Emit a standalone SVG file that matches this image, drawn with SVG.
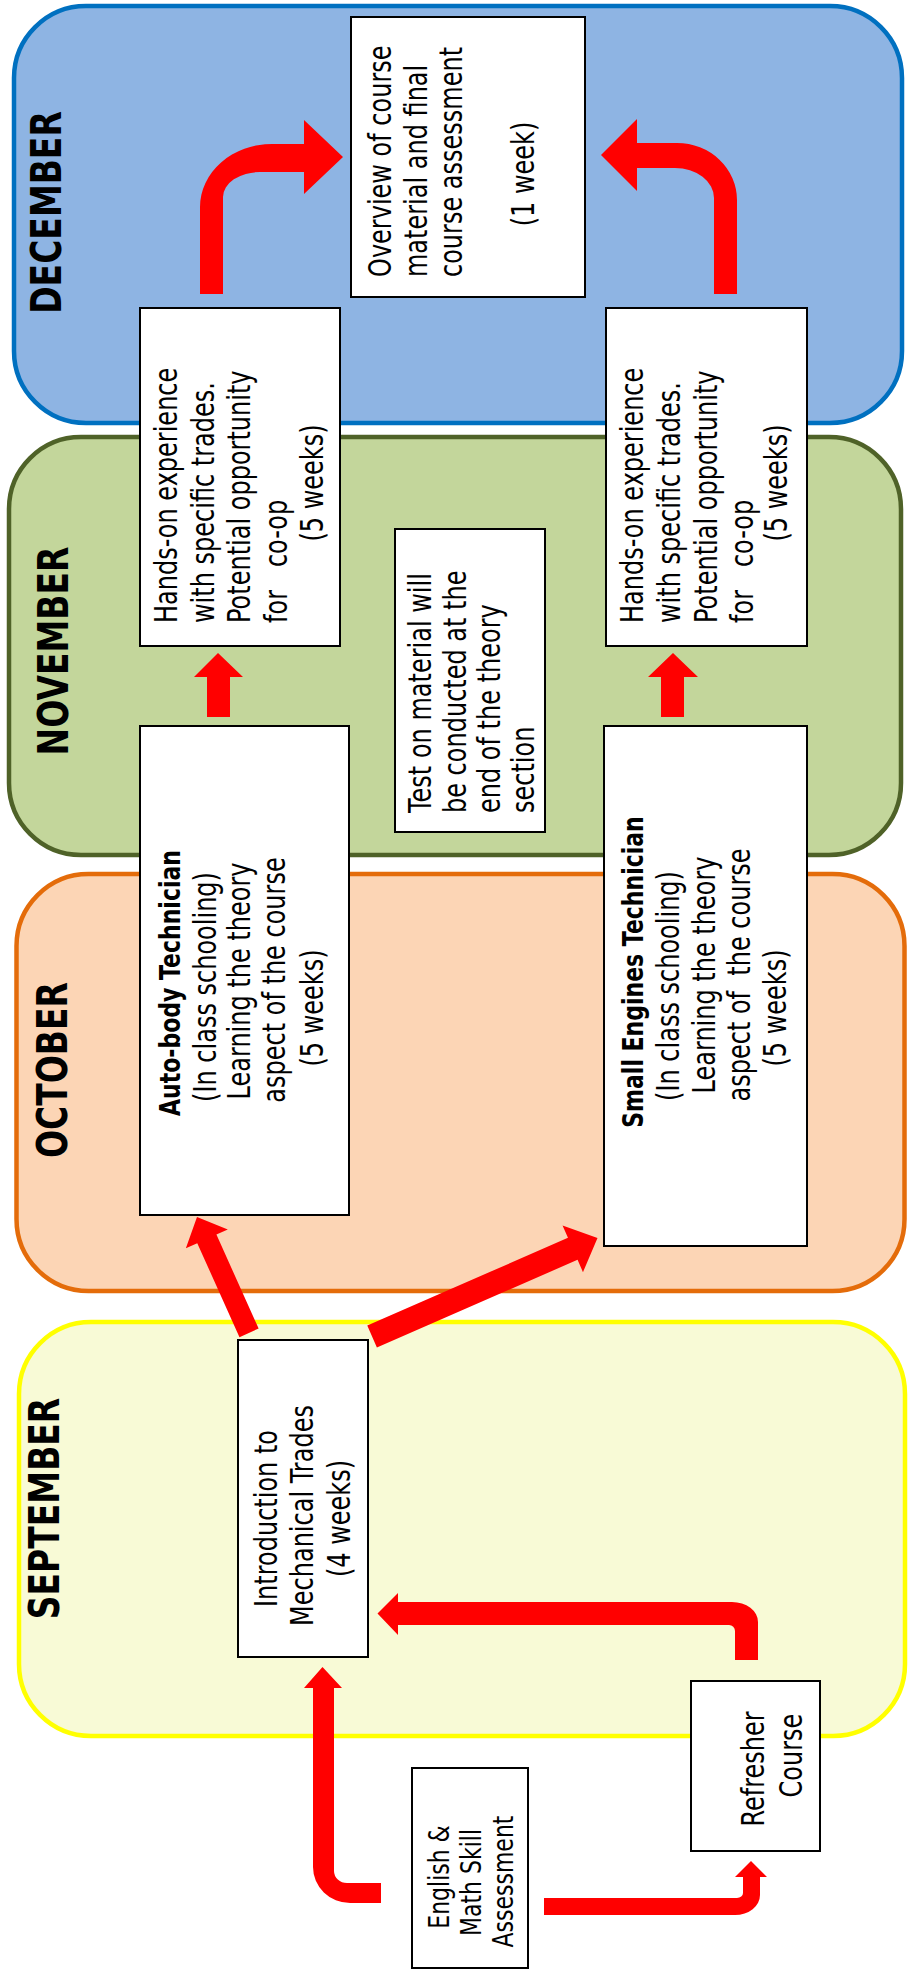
<svg xmlns="http://www.w3.org/2000/svg" width="908" height="1975" viewBox="0 0 908 1975">
<style>
.t{font-family:"DejaVu Sans","Liberation Sans",sans-serif;font-size:24px;fill:#000;white-space:pre}
.b{font-weight:bold;font-size:22px}
.m{font-family:"DejaVu Sans","Liberation Sans",sans-serif;font-weight:bold;font-size:33px;fill:#000;text-anchor:middle}
.s{font-size:22px}
.c{text-anchor:middle}
.box{fill:#fff;stroke:#000;stroke-width:2}
.arr{fill:#ff0000;stroke:none}
</style>
<rect width="908" height="1975" fill="#fff"/>
<g id="lane-december">
<rect x="14" y="6" width="888" height="417" rx="72" ry="72" fill="#8EB4E3" stroke="#0070C0" stroke-width="4.5"/>
<text class="m" transform="translate(61,212.5) rotate(-90) scale(1,1.3)">DECEMBER</text>
</g>
<g id="lane-november">
<rect x="9" y="437" width="892" height="418" rx="72" ry="72" fill="#C3D69B" stroke="#4F6228" stroke-width="4.5"/>
<text class="m" transform="translate(68,651) rotate(-90) scale(1,1.3)">NOVEMBER</text>
</g>
<g id="lane-october">
<rect x="16.5" y="874" width="888" height="417" rx="72" ry="72" fill="#FCD5B5" stroke="#E46C0A" stroke-width="4.5"/>
<text class="m" transform="translate(67,1070) rotate(-90) scale(1,1.3)">OCTOBER</text>
</g>
<g id="lane-september">
<rect x="19" y="1322" width="886" height="414" rx="72" ry="72" fill="#F8FAD6" stroke="#FFFF00" stroke-width="4.5"/>
<text class="m" transform="translate(59,1508.5) rotate(-90) scale(1,1.3)">SEPTEMBER</text>
</g>
<g id="connectors">
<path class="arr" d="M200,294 L200,207 A72,63 0 0 1 272,144 L304,144 L304,120 L343,157 L304,194 L304,172 L260,172 A37,25 0 0 0 223,197 L223,294 Z"/>
<path class="arr" d="M737,294 L737,200 A60,57 0 0 0 677,143 L637,143 L637,119 L601,155 L637,191 L637,168 L675,168 A39,30 0 0 1 714,198 L714,294 Z"/>
<polygon class="arr" points="218,653 243,677 230,677 230,717 207,717 207,677 194,677"/>
<polygon class="arr" points="673,653 698,677 684,677 684,717 661,717 661,677 648,677"/>
<polygon class="arr" transform="translate(197,1217) rotate(-24.2)" points="0,0 23,24 10.5,24 10.5,127 -10.5,127 -10.5,24 -23,24"/>
<polygon class="arr" transform="translate(597.5,1238) rotate(66.4)" points="0,0 25.5,27 12,27 12,246 -12,246 -12,27 -25.5,27"/>
<path class="arr" d="M758,1660 L758,1622 A26,20 0 0 0 732,1602 L398,1602 L398,1593 L377.5,1613.5 L398,1635 L398,1625 L729,1625 A6,6 0 0 1 735,1631 L735,1660 Z"/>
<path class="arr" d="M304,1688 L322.5,1667 L342,1688 L334,1688 L334,1871 A13,12 0 0 0 347,1883 L381,1883 L381,1903 L350,1903 A37,36 0 0 1 313,1867 L313,1688 Z"/>
<path class="arr" d="M544,1898 L737,1898 A6,5 0 0 0 743,1893 L743,1877 L735,1877 L751,1861 L767,1877 L760,1877 L760,1895 A25,20 0 0 1 735,1915 L544,1915 Z"/>
</g>
<g id="node-overview">
<rect class="box" x="351" y="17" width="234" height="280"/>
<text class="t" transform="translate(391,277) rotate(-90) scale(1,1.3)">Overview of course</text>
<text class="t" transform="translate(427,277) rotate(-90) scale(1,1.3)">material and final</text>
<text class="t" transform="translate(461.5,277) rotate(-90) scale(1,1.3)">course assessment</text>
<text class="t c" transform="translate(534,174) rotate(-90) scale(1,1.3)">(1 week)</text>
</g>
<g id="node-handson-auto">
<rect class="box" x="140" y="308" width="200" height="338"/>
<text class="t" transform="translate(177,623) rotate(-90) scale(1,1.3)">Hands-on experience</text>
<text class="t" transform="translate(214,623) rotate(-90) scale(1,1.3)">with specific trades.</text>
<text class="t" transform="translate(250,623) rotate(-90) scale(1,1.3)">Potential opportunity</text>
<text class="t" transform="translate(287,623) rotate(-90) scale(1,1.3)">for   co-op</text>
<text class="t c" transform="translate(323,483) rotate(-90) scale(1,1.3)">(5 weeks)</text>
</g>
<g id="node-handson-small">
<rect class="box" x="606" y="308" width="201" height="338"/>
<text class="t" transform="translate(643,623) rotate(-90) scale(1,1.3)">Hands-on experience</text>
<text class="t" transform="translate(680,623) rotate(-90) scale(1,1.3)">with specific trades.</text>
<text class="t" transform="translate(717,623) rotate(-90) scale(1,1.3)">Potential opportunity</text>
<text class="t" transform="translate(753,623) rotate(-90) scale(1,1.3)">for   co-op</text>
<text class="t c" transform="translate(787,483) rotate(-90) scale(1,1.3)">(5 weeks)</text>
</g>
<g id="node-test">
<rect class="box" x="395" y="529" width="150" height="303" stroke-width="1.5"/>
<text class="t" transform="translate(431,813) rotate(-90) scale(1,1.3)">Test on material will</text>
<text class="t" transform="translate(466,813) rotate(-90) scale(1,1.3)">be conducted at the</text>
<text class="t" transform="translate(500,813) rotate(-90) scale(1,1.3)">end of the theory</text>
<text class="t" transform="translate(534,813) rotate(-90) scale(1,1.3)">section</text>
</g>
<g id="node-autobody">
<rect class="box" x="140" y="726" width="209" height="489"/>
<text class="t b c" transform="translate(179.5,983) rotate(-90) scale(1,1.3)">Auto-body Technician</text>
<text class="t c" transform="translate(216,987) rotate(-90) scale(1,1.3)">(In class schooling)</text>
<text class="t c" transform="translate(250,981) rotate(-90) scale(1,1.3)">Learning the theory</text>
<text class="t c" transform="translate(285,980) rotate(-90) scale(1,1.3)">aspect of the course</text>
<text class="t c" transform="translate(323,1008) rotate(-90) scale(1,1.3)">(5 weeks)</text>
</g>
<g id="node-smallengines">
<rect class="box" x="604" y="726" width="203" height="520"/>
<text class="t b c" transform="translate(643,972) rotate(-90) scale(1,1.3)">Small Engines Technician</text>
<text class="t c" transform="translate(679,986) rotate(-90) scale(1,1.3)">(In class schooling)</text>
<text class="t c" transform="translate(715,975) rotate(-90) scale(1,1.3)">Learning the theory</text>
<text class="t c" transform="translate(750,975) rotate(-90) scale(1,1.3)">aspect of  the course</text>
<text class="t c" transform="translate(786,1008) rotate(-90) scale(1,1.3)">(5 weeks)</text>
</g>
<g id="node-intro">
<rect class="box" x="238" y="1340" width="130" height="317"/>
<text class="t c" transform="translate(277,1518.5) rotate(-90) scale(1,1.3)">Introduction to</text>
<text class="t c" transform="translate(313,1515.5) rotate(-90) scale(1,1.3)">Mechanical Trades</text>
<text class="t c" transform="translate(350,1518.5) rotate(-90) scale(1,1.3)">(4 weeks)</text>
</g>
<g id="node-refresher">
<rect class="box" x="691" y="1681" width="129" height="170"/>
<text class="t c" transform="translate(764,1769) rotate(-90) scale(1,1.3)">Refresher</text>
<text class="t c" transform="translate(802,1755.5) rotate(-90) scale(1,1.3)">Course</text>
</g>
<g id="node-english">
<rect class="box" x="412" y="1768" width="116" height="200"/>
<text class="t s c" transform="translate(449,1877) rotate(-90) scale(1,1.3)">English &amp;</text>
<text class="t s c" transform="translate(481,1882.5) rotate(-90) scale(1,1.3)">Math Skill</text>
<text class="t s c" transform="translate(512.5,1881.5) rotate(-90) scale(1,1.3)">Assessment</text>
</g>
</svg>
